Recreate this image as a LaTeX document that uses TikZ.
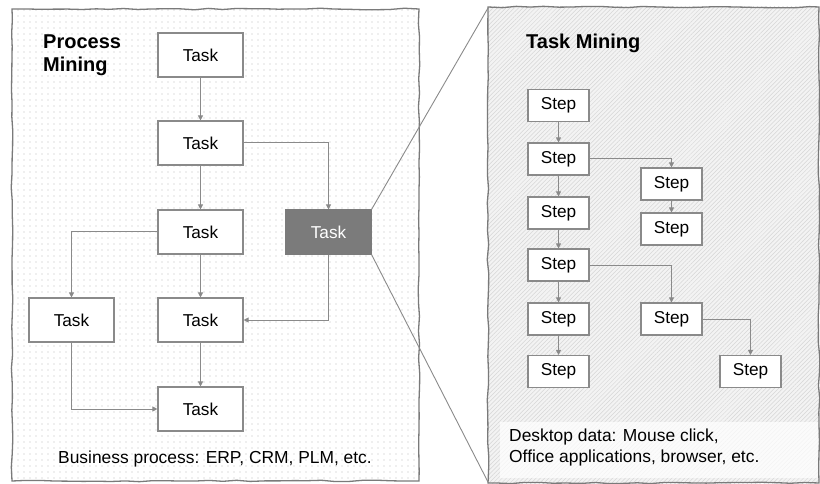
\documentclass[tikz,border=0pt]{standalone}
\usepackage{fontspec}
\setmainfont{Liberation Sans}
\usetikzlibrary{arrows.meta,patterns.meta,decorations.pathmorphing}
\definecolor{edgegray}{HTML}{8A8A8A}
\definecolor{framegray}{HTML}{7A7A7A}
\definecolor{darktask}{HTML}{7B7B7B}
\definecolor{hatchbg}{HTML}{F3F3F3}
\definecolor{hatchline}{HTML}{D6D6D6}
\definecolor{dotcol}{HTML}{BDBDBD}
\begin{document}
\begin{tikzpicture}[x=1pt,y=-1pt,
  task/.style={draw=edgegray, line width=1.1pt, fill=white, minimum width=85pt, minimum height=44pt, inner sep=0pt, font=\fontsize{17.2}{19}\selectfont},
  darkbox/.style={task, fill=darktask, draw=darktask, text=white},
  stepbox/.style={draw=edgegray, line width=1.1pt, fill=white, minimum width=61pt, minimum height=32pt, inner sep=0pt, font=\fontsize{17.2}{19}\selectfont},
  flow/.style={draw=edgegray, line width=1pt, -{Triangle[length=5pt,width=5pt]}},
  zoomline/.style={draw=edgegray, line width=0.9pt},
  sketch/.style={draw=framegray, line width=1.3pt, decorate, decoration={random steps, segment length=14pt, amplitude=0.8pt}},
  title/.style={font=\fontsize{20}{23.3}\selectfont\bfseries, align=left, inner sep=0pt},
  caption/.style={font=\fontsize{17.4}{21}\selectfont, align=left, inner sep=0pt}
]
\useasboundingbox (0,0) rectangle (820,484);

% left panel
\fill[white] (12,9) rectangle (419,481);
\fill[pattern={Dots[distance=6pt, radius=0.6pt]}, pattern color=dotcol] (12,9) rectangle (419,481);
\draw[sketch] (12,9) -- (419,9) -- (419,481) -- (12,481) -- cycle;

% right panel
\fill[hatchbg] (488,7) rectangle (819,483);
\fill[pattern={Lines[angle=45, distance=3pt, line width=0.5pt]}, pattern color=hatchline] (488,7) rectangle (819,483);
\draw[sketch] (488,7) -- (819,7) -- (819,483) -- (488,483) -- cycle;

% titles
\node[title, anchor=west] (pmtitle) at (43,55) {Process\\Mining};
\node[title, anchor=west] (tmtitle) at (526,43) {Task Mining};

% left tasks
\node[task] (t1) at (200.5,55) {Task};
\node[task] (t2) at (200.5,143) {Task};
\node[task] (t3) at (200.5,232) {Task};
\node[darkbox] (td) at (328.5,232) {Task};
\node[task] (tl) at (71.5,320) {Task};
\node[task] (t4) at (200.5,320) {Task};
\node[task] (t5) at (200.5,409) {Task};

\draw[flow] (t1) -- (t2);
\draw[flow] (t2) -- (t3);
\draw[flow] (t2.east) -| (td.north);
\draw[flow] (t3.west) -| (tl.north);
\draw[flow] (t3) -- (t4);
\draw[flow] (td.south) |- (t4.east);
\draw[flow] (tl.south) |- (t5.west);
\draw[flow] (t4) -- (t5);

\node[caption, anchor=center] (pmcap) at (215,459) {Business process: ERP, CRM, PLM, etc.};

% zoom lines
\coordinate (ztop) at (488,8);
\coordinate (zbot) at (488,482);
\draw[zoomline] (td.north east) -- (ztop);
\draw[zoomline] (td.south east) -- (zbot);

% steps
\node[stepbox] (s1) at (558.5,105.5) {Step};
\node[stepbox] (s2) at (558.5,159) {Step};
\node[stepbox] (s3) at (558.5,213) {Step};
\node[stepbox] (s4) at (558.5,265) {Step};
\node[stepbox] (s5) at (558.5,319) {Step};
\node[stepbox] (s6) at (558.5,371.5) {Step};
\node[stepbox] (sa) at (671.5,184) {Step};
\node[stepbox] (sb) at (671.5,229) {Step};
\node[stepbox] (sc) at (671.5,319) {Step};
\node[stepbox] (sd) at (750.5,371.5) {Step};

\draw[flow] (s1) -- (s2);
\draw[flow] (s2) -- (s3);
\draw[flow] (s3) -- (s4);
\draw[flow] (s4) -- (s5);
\draw[flow] (s5) -- (s6);
\draw[flow] (s2.east) -| (sa.north);
\draw[flow] (sa) -- (sb);
\draw[flow] (s4.east) -| (sc.north);
\draw[flow] (sc.east) -| (sd.north);

% caption box
\fill[white, opacity=0.72] (500,422) rectangle (818,478);
\node[caption, anchor=north west] (tmcap) at (509,429) {Desktop data: Mouse click,\\Office applications, browser, etc.};
\end{tikzpicture}
\end{document}
